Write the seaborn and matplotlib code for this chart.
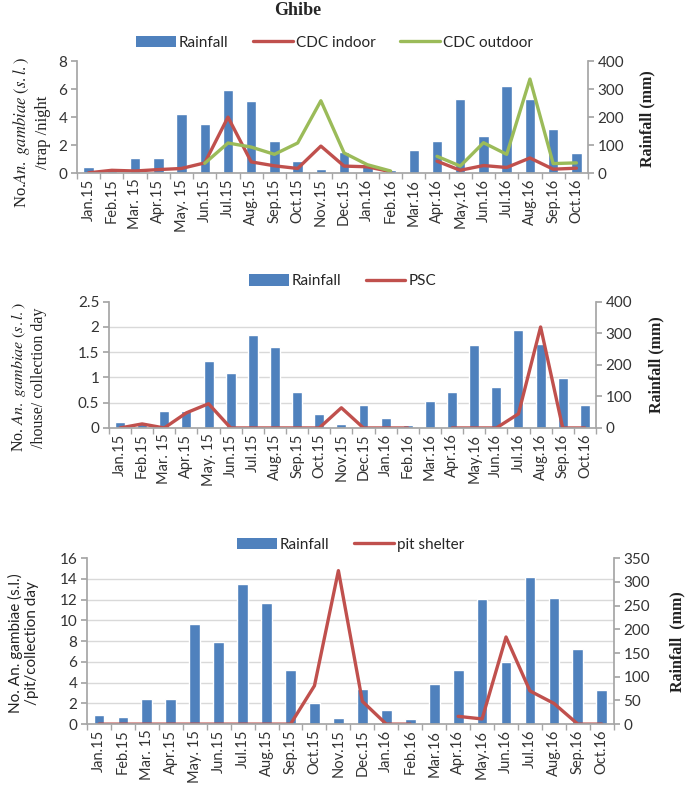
import numpy as np
import pandas as pd
import matplotlib
matplotlib.use("Agg")
import matplotlib.pyplot as plt
import seaborn as sns
from matplotlib.lines import Line2D
from matplotlib.patches import Patch
from matplotlib.ticker import FixedLocator, FuncFormatter

# --- data ---
months = ["Jan.15", "Feb.15", "Mar. 15", "Apr.15", "May. 15", "Jun.15", "Jul.15",
          "Aug.15", "Sep.15", "Oct.15", "Nov.15", "Dec.15", "Jan.16", "Feb.16",
          "Mar.16", "Apr.16", "May.16", "Jun.16", "Jul.16", "Aug.16", "Sep.16", "Oct.16"]

rainfall = [20, 15, 54, 53, 211, 174, 296, 256, 115, 44, 13, 74,
            30, 10, 84, 115, 264, 131, 310, 266, 158, 72]

nan = np.nan
cdc_indoor = [0.02, 0.2, 0.15, 0.25, 0.33, 0.73, 4.0, 0.8, 0.52, 0.33, 1.93, 0.5,
              0.45, 0.1, nan, 0.85, 0.2, 0.54, 0.4, 1.08, 0.28, 0.35]
cdc_outdoor = [nan, nan, nan, nan, nan, 0.7, 2.15, 1.86, 1.34, 2.15, 5.17, 1.44,
               0.6, 0.15, nan, 1.2, 0.5, 2.17, 1.34, 6.72, 0.68, 0.73]
psc = [0, 0.08, 0, 0.3, 0.48, 0, 0, 0, 0, 0, 0.4, 0,
       0, 0, nan, 0, 0, 0, 0.28, 2.0, 0, 0]
pit_shelter = [0, 0, 0, 0, 0, 0, 0, 0, 0, 3.7, 14.8, 2.2,
               0, 0, nan, 0.75, 0.5, 8.4, 3.2, 2.0, 0, 0]

BLUE = "#4F81BD"
RED = "#C0504D"
GREEN = "#9BBB59"
GRID = "#D9D9D9"
SPINE = "#A6A6A6"
TXT = "#333333"
SANS = "Lato"
SERIF = "Liberation Serif"

sns.set_theme(style="white")
plt.rcParams["font.family"] = [SANS, "DejaVu Sans"]


def line_frame(values):
    # break the line wherever a month has no data
    s = pd.Series(values, dtype=float)
    df = pd.DataFrame({"pos": np.arange(len(s)), "value": s, "seg": s.isna().cumsum()})
    return df.dropna()


def draw_panel(fig, rect, series, left_max, left_step, rain_max, rain_step,
               ylabel, ylabel_kw, ylabel_xy, rlabel, rlabel_xy):
    ax = fig.add_axes(rect)
    axr = ax.twinx()
    n = len(months)

    # rainfall bars on the right scale (drawn underneath)
    sns.barplot(x=months, y=rainfall, color=BLUE, width=0.45, saturation=1,
                ax=axr, zorder=2)
    axr.set_ylim(0, rain_max)
    axr.set_yticks(np.arange(0, rain_max + 1, rain_step))
    # gridlines follow the left scale but sit under the bars
    left_ticks = np.arange(0, left_max + left_step / 2, left_step)
    axr.yaxis.set_minor_locator(FixedLocator(left_ticks * rain_max / left_max))
    axr.grid(False)
    axr.grid(which="minor", axis="y", color=GRID, lw=1)
    axr.set_axisbelow(True)
    axr.tick_params(axis="y", which="minor", length=0)
    axr.tick_params(axis="y", which="major", length=4, color=SPINE, direction="out",
                    labelsize=11, labelcolor=TXT, pad=3, right=True)
    for side in ["left", "top", "bottom"]:
        axr.spines[side].set_visible(False)
    axr.spines["right"].set_color(SPINE)
    axr.set_ylabel(rlabel, fontfamily=SERIF, fontweight="bold", fontsize=11.5, color="#222222")
    axr.yaxis.set_label_coords(*rlabel_xy)
    axr.yaxis.label.set_va("center")

    # mosquito counts on the left scale, on top
    ax.set_zorder(axr.get_zorder() + 1)
    ax.patch.set_visible(False)
    for values, color in series:
        sns.lineplot(data=line_frame(values), x="pos", y="value", units="seg",
                     estimator=None, color=color, lw=2.4, ax=ax, legend=False)
    ax.set_ylim(0, left_max)
    ax.set_yticks(left_ticks)
    ax.yaxis.set_major_formatter(FuncFormatter(lambda v, p: f"{v:g}"))
    ax.set_xlim(-0.5, n - 0.5)
    ax.set_xticks(np.arange(n))
    ax.set_xticklabels(months, rotation=90)
    ax.xaxis.set_minor_locator(FixedLocator(np.arange(-0.5, n, 1)))
    ax.tick_params(axis="x", which="major", length=0, labelsize=10.5, labelcolor=TXT, pad=4)
    ax.tick_params(axis="x", which="minor", length=4, color=SPINE, direction="out", bottom=True)
    ax.tick_params(axis="y", length=4, color=SPINE, direction="out", left=True,
                   labelsize=11, labelcolor=TXT, pad=3)
    ax.grid(False)
    for side in ["top", "right"]:
        ax.spines[side].set_visible(False)
    for side in ["left", "bottom"]:
        ax.spines[side].set_color(SPINE)
    ax.set_xlabel("")
    ax.set_ylabel(ylabel, color="#222222", **ylabel_kw)
    ax.yaxis.set_label_coords(*ylabel_xy)
    ax.yaxis.label.set_va("center")
    return ax


fig = plt.figure(figsize=(6.85, 7.94), dpi=100)

draw_panel(fig, [0.1124, 0.782, 0.746, 0.141],
           [(cdc_indoor, RED), (cdc_outdoor, GREEN)], 8, 2, 400, 100,
           "No.$\\mathit{An.\\ gambiae\\ (s.l.)}$\n/trap /night",
           dict(fontfamily=SERIF, math_fontfamily="stix", fontsize=12),
           (-0.09, 0.36), "Rainfall (mm)", (1.117, 0.49))
draw_panel(fig, [0.159, 0.461, 0.711, 0.159],
           [(psc, RED)], 2.5, 0.5, 400, 100,
           "No. $\\mathit{An.\\ gambiae\\ (s.l.)}$\n/house/ collection day",
           dict(fontfamily=SERIF, math_fontfamily="stix", fontsize=11.5),
           (-0.166, 0.40), "Rainfall (mm)", (1.125, 0.5))
draw_panel(fig, [0.127, 0.088, 0.769, 0.209],
           [(pit_shelter, RED)], 16, 2, 350, 50,
           "No. An. gambiae (s.l.)\n/pit/collection day", dict(fontfamily=SANS, fontsize=11),
           (-0.12, 0.49), "Rainfall  (mm)", (1.12, 0.5))

fig.text(0.435, 0.987, "Ghibe", fontfamily=SERIF, fontweight="bold", fontsize=13,
         ha="center", va="center")

leg_kw = dict(loc="center", frameon=False, handlelength=2.6, handleheight=0.8,
              handletextpad=0.2, columnspacing=1.6, prop={"family": SANS, "size": 11})
bar_h = Patch(facecolor=BLUE, edgecolor="none")
fig.legend([bar_h, Line2D([], [], color=RED, lw=2.4), Line2D([], [], color=GREEN, lw=2.4)],
           ["Rainfall", "CDC indoor", "CDC outdoor"], ncol=3,
           bbox_to_anchor=(0.488, 0.946), **leg_kw)
fig.legend([bar_h, Line2D([], [], color=RED, lw=2.4)], ["Rainfall", "PSC"], ncol=2,
           bbox_to_anchor=(0.50, 0.646), **leg_kw)
fig.legend([bar_h, Line2D([], [], color=RED, lw=2.4)], ["Rainfall", "pit shelter"], ncol=2,
           bbox_to_anchor=(0.512, 0.314), **leg_kw)

fig.savefig("out.png", dpi=100)
